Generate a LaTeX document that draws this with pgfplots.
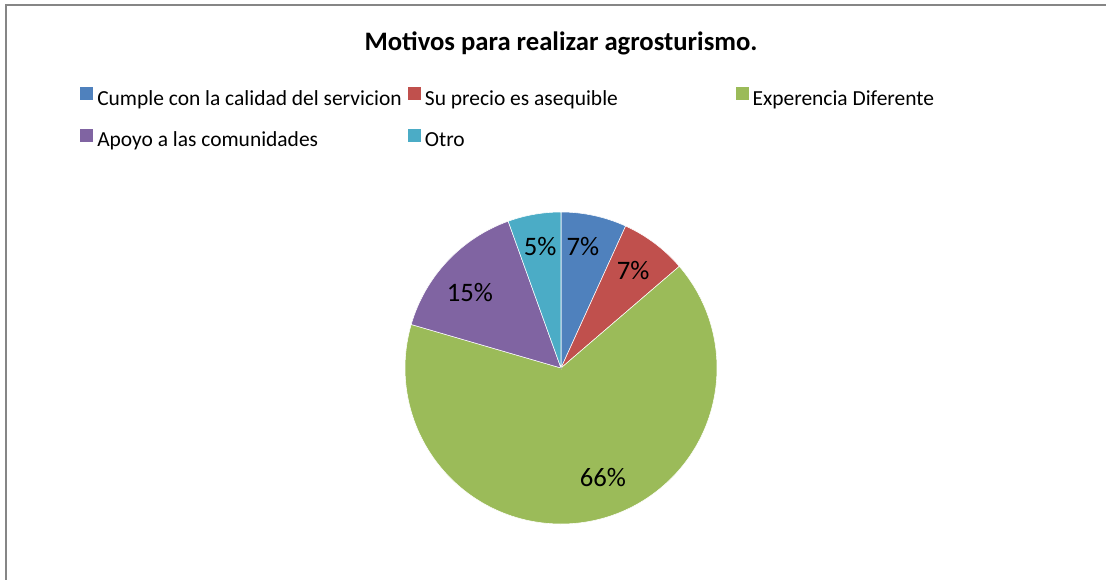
\documentclass[border=0pt]{standalone}
\usepackage{fontspec}
\setmainfont{Carlito}
\usepackage{pgfplots}
\usepackage{pgfplotstable}
\pgfplotsset{compat=1.18}
\definecolor{c1}{HTML}{4F81BD}
\definecolor{c2}{HTML}{C0504D}
\definecolor{c3}{HTML}{9BBB59}
\definecolor{c4}{HTML}{8064A2}
\definecolor{c5}{HTML}{4BACC6}
\definecolor{frame}{RGB}{134,134,134}
% pct: share of each slice; cum: share before it; lab: printed label; labang/labr: label position
\pgfplotstableread{
x y pct cum ci lab labang labr
0 0 6.8 0.0 1 7 79.7 92.25
0 0 6.9 6.8 2 7 53.4 90.75
0 0 65.8 13.7 3 66 -69 87.75
0 0 15.0 79.5 4 15 140.5 88.5
0 0 5.5 94.5 5 5 99.8 92.25
}\piedata
\begin{document}
\begin{tikzpicture}
\useasboundingbox (0pt,0pt) rectangle (829.5pt,-434.25pt);
\draw[line width=1.5pt, frame] (4.5pt,-440pt) -- (4.5pt,-3.75pt) -- (835pt,-3.75pt);
\begin{axis}[
  at={(420.75pt,-276pt)}, anchor=center,
  scale only axis, width=234pt, height=234pt,
  xmin=-1, xmax=1, ymin=-1, ymax=1,
  hide axis, clip=false,
  title={Motivos para realizar agrosturismo.},
  title style={font=\bfseries\fontsize{20}{24}\selectfont, at={(0.5,1.516)}, anchor=center},
  legend columns=3,
  legend cell align=left,
  legend image code/.code={\fill[#1, draw=none] (0pt,-0.25pt) rectangle (9.75pt,9.5pt);},
  legend style={draw=none, fill=none, at={(-1.0417,1.40)}, anchor=north west,
    inner sep=0pt, row sep=13.75pt,
    nodes={inner sep=0pt, text height=11.5pt, text depth=4pt, font=\fontsize{16.1}{19}\selectfont},
    /tikz/every odd column/.style={column sep=3pt},
    /tikz/every even column/.style={column sep=0pt}},
]
\addplot[forget plot, scatter, only marks, mark=*, mark size=0.01pt,
  point meta=explicit,
  visualization depends on={90-3.6*\thisrow{cum} \as \slicestart},
  visualization depends on={90-3.6*(\thisrow{cum}+\thisrow{pct}) \as \sliceend},
  visualization depends on={\thisrow{ci} \as \sliceci},
  visualization depends on={\thisrow{lab} \as \slicelab},
  visualization depends on={\thisrow{labang} \as \labang},
  visualization depends on={\thisrow{labr} \as \labr},
  scatter/@pre marker code/.code={%
    \pgfmathtruncatemacro{\ci}{\sliceci}%
    \pgfmathtruncatemacro{\lb}{\slicelab}%
    \edef\slicecol{c\ci}%
    \fill[fill=\slicecol, draw=white, line width=0.4pt] (0pt,0pt) -- (\slicestart:117pt)
      arc[start angle=\slicestart, end angle=\sliceend, radius=117pt] -- cycle;
    \node[font=\fontsize{20}{24}\selectfont, inner sep=0pt] at (\labang:\labr pt) {\lb\%};
  },
  scatter/@post marker code/.code={},
] table[x=x, y=y, meta=pct] {\piedata};
\addlegendimage{fill=c1}
\addlegendentry{\makebox[233pt][l]{Cumple con la calidad del servicion}}
\addlegendimage{fill=c2}
\addlegendentry{\makebox[233pt][l]{Su precio es asequible}}
\addlegendimage{fill=c3}
\addlegendentry{Experencia Diferente}
\addlegendimage{fill=c4}
\addlegendentry{\makebox[233pt][l]{Apoyo a las comunidades}}
\addlegendimage{fill=c5}
\addlegendentry{Otro}
\end{axis}
\end{tikzpicture}
\end{document}
